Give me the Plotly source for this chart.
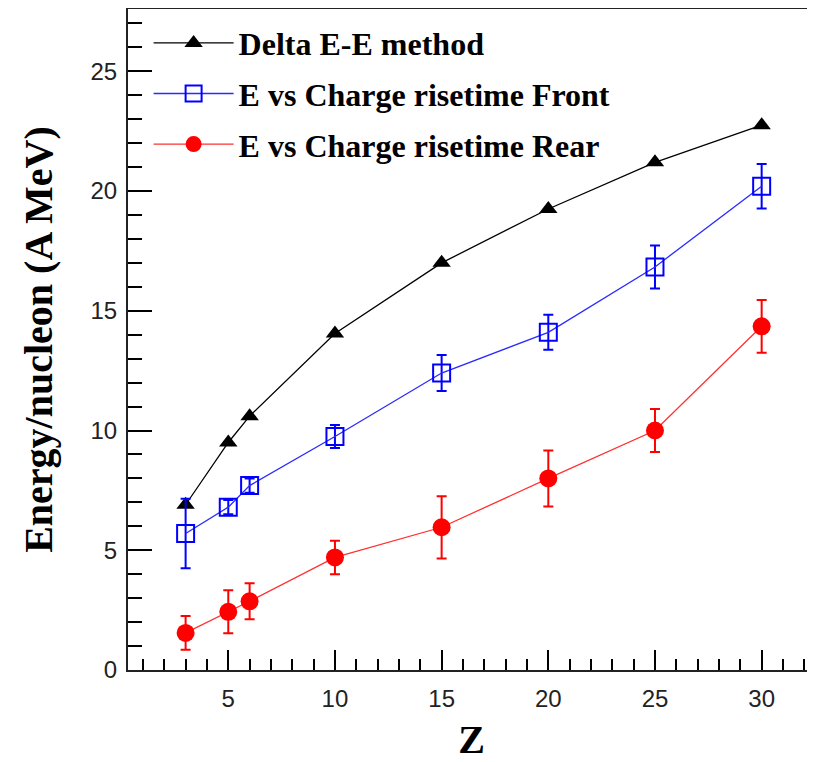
import plotly.graph_objects as go

z_delta = [3, 5, 6, 10, 15, 20, 25, 30]
e_delta = [6.9, 9.5, 10.6, 14.05, 17.0, 19.25, 21.2, 22.75]

z_front = [3, 5, 6, 10, 15, 20, 25, 30]
e_front = [5.7, 6.8, 7.7, 9.75, 12.4, 14.1, 16.83, 20.2]
err_front = [1.45, 0.3, 0.3, 0.48, 0.75, 0.73, 0.9, 0.93]

z_rear = [3, 5, 6, 10, 15, 20, 25, 30]
e_rear = [1.55, 2.43, 2.87, 4.7, 5.96, 8.0, 10.0, 14.35]
err_rear = [0.7, 0.9, 0.75, 0.7, 1.3, 1.17, 0.9, 1.1]

names = ["Delta E-E method", "E vs Charge risetime Front", "E vs Charge risetime Rear"]

fig = go.Figure()
fig.add_trace(go.Scatter(
    x=z_delta, y=e_delta, mode="lines+markers", name=names[0], legendgroup="a",
    line=dict(color="black", width=1.3),
    marker=dict(symbol="triangle-up", size=16, color="black"),
))
fig.add_trace(go.Scatter(
    x=z_front, y=e_front, mode="lines+markers", name=names[1], legendgroup="b",
    line=dict(color="#2a2aff", width=1.3),
    marker=dict(symbol="square-open", size=17, color="#0000ff", line=dict(width=2)),
    error_y=dict(type="data", array=err_front, color="#0000ff", thickness=2, width=5),
))
fig.add_trace(go.Scatter(
    x=z_rear, y=e_rear, mode="lines+markers", name=names[2], legendgroup="c",
    line=dict(color="#ff3030", width=1.3),
    marker=dict(symbol="circle", size=18, color="#ff0000"),
    error_y=dict(type="data", array=err_rear, color="#ff0000", thickness=2, width=5),
))

tickfont = dict(family="Liberation Sans, Arial", size=24, color="#222")
fig.update_layout(
    width=807, height=754,
    margin=dict(l=120, r=0, t=1, b=92),
    plot_bgcolor="white", paper_bgcolor="white",
    showlegend=True,
    legend=dict(
        x=0.030, y=0.99, xanchor="left", yanchor="top",
        font=dict(family="Liberation Serif, Times New Roman", size=32, color="black", weight="bold"),
        bgcolor="rgba(0,0,0,0)", itemwidth=80, tracegroupgap=6,
        traceorder="grouped",
    ),
    xaxis=dict(
        range=[0.3, 32.5], dtick=5, tick0=0, ticks="inside", ticklen=20, tickwidth=1.5,
        tickcolor="black", showline=True, linewidth=2, linecolor="#222", mirror=True,
        showgrid=False, zeroline=False, tickfont=tickfont, ticklabelstandoff=6,
        minor=dict(ticks="inside", ticklen=11, dtick=1, tickwidth=1.5, tickcolor="black", showgrid=False),
        title=dict(text="Z", font=dict(family="Liberation Serif, Times New Roman", size=40, color="black", weight="bold"), standoff=17),
    ),
    yaxis=dict(
        range=[0, 27.6], dtick=5, tick0=0, ticks="inside", ticklen=24, tickwidth=1.5,
        tickcolor="black", showline=True, linewidth=2, linecolor="#222", mirror=False,
        showgrid=False, zeroline=False, tickfont=tickfont, ticklabelstandoff=4,
        minor=dict(ticks="inside", ticklen=14, dtick=1, tickwidth=1.5, tickcolor="black", showgrid=False),
        title=dict(text="Energy/nucleon (A MeV)", font=dict(family="Liberation Serif, Times New Roman", size=40, color="black", weight="bold"), standoff=25),
    ),
)

fig.write_html("out.html")
